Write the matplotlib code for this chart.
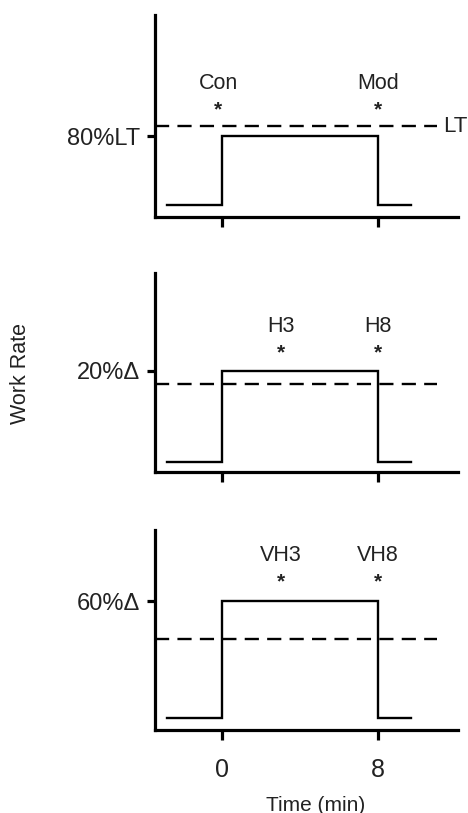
import matplotlib
matplotlib.use("Agg")
import matplotlib.pyplot as plt

plt.rcParams['font.family'] = ['Liberation Sans', 'DejaVu Sans']

# step profile in time (min)
step_t = [-2.8, 0, 0, 8, 8, 9.7]
base = [6, 5, 6]
high = [40, 51, 64.5]
lt_level = [45, 44, 45.5]
ytick_labels = ["80%LT", "20%\u0394", "60%\u0394"]

# annotations per panel
ann_t = [[-0.2, 8], [3, 8], [3, 8]]
ann_names = [["Con", "Mod"], ["H3", "H8"], ["VH3", "VH8"]]
name_y = [66, 73, 87.5]
star_y = [53, 60, 74]

xticks = [0, 8]
dash_end = 11.0

fig = plt.figure(figsize=(4.68, 8.13), dpi=100)
left = 155 / 468
width = 458 / 468 - left
panels = [(217, 15), (472, 273), (730, 530)]  # (bottom px, top px)

for i, (b, t) in enumerate(panels):
    ax = fig.add_axes([left, 1 - b / 813, width, (b - t) / 813])
    ax.set_xlim(-3.44, 12.1)
    ax.set_ylim(0, 100)
    for s in ["top", "right"]:
        ax.spines[s].set_visible(False)
    for s in ["left", "bottom"]:
        ax.spines[s].set_linewidth(2.3)
        ax.spines[s].set_color("black")

    ys = [base[i], base[i], high[i], high[i], base[i], base[i]]
    ax.plot(step_t, ys, color="black", lw=1.7, solid_joinstyle="miter")
    ax.plot([-3.44, dash_end], [lt_level[i]] * 2, color="black", lw=1.7,
            dashes=(6, 3.5))
    for tt, nm in zip(ann_t[i], ann_names[i]):
        ax.text(tt, name_y[i], nm, ha="center", va="center", fontsize=15.5,
                color="#222222")
        ax.text(tt, star_y[i], "*", ha="center", va="center", fontsize=15,
                fontweight="bold", color="#222222")
    if i == 0:
        ax.text(11.33, lt_level[i], "LT", ha="left", va="center",
                fontsize=16, color="#222222")

    ax.set_yticks([high[i]])
    ax.set_yticklabels([ytick_labels[i]], fontsize=17, color="#222222")
    ax.tick_params(axis="y", length=6, width=2.3, pad=5)
    ax.set_xticks(xticks)
    ax.tick_params(axis="x", length=7, width=2.3, pad=13)
    if i == 2:
        ax.set_xticklabels([str(v) for v in xticks], fontsize=18,
                           color="#222222")
    else:
        ax.set_xticklabels([])

fig.text(316 / 468, 1 - 805 / 813, "Time (min)", ha="center", va="center",
         fontsize=15, color="#222222")
fig.text(21 / 468, 1 - 373 / 813, "Work Rate", ha="center", va="center",
         rotation=90, fontsize=15.5, color="#222222")

fig.savefig("out.png", dpi=100)
